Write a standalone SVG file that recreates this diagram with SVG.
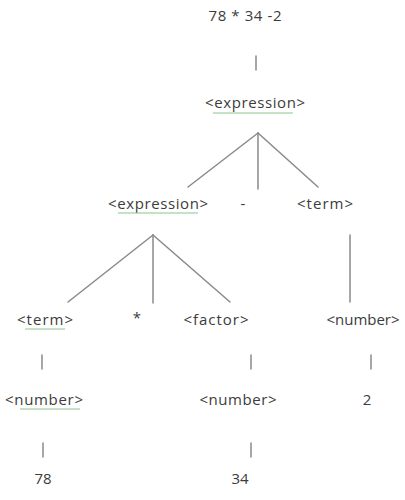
<svg xmlns="http://www.w3.org/2000/svg" width="405" height="500" viewBox="0 0 405 500">
<style>
.t{font-family:"Open Sans","Liberation Sans",sans-serif;font-size:15px;fill:#3c3c3c;text-anchor:middle}
.e{stroke:#8a8a8a;stroke-width:1.5;fill:none;stroke-linecap:round}
.u{stroke:#8fc48f;stroke-width:1.2;fill:none}
</style>
<rect width="405" height="500" fill="#ffffff"/>
<g id="connectors">
<line class="e" x1="256" y1="56" x2="256" y2="70"/>
<line class="e" x1="258" y1="133" x2="188" y2="187"/>
<line class="e" x1="258" y1="133" x2="258" y2="189"/>
<line class="e" x1="258" y1="133" x2="318" y2="187"/>
<line class="e" x1="153" y1="235" x2="68" y2="302"/>
<line class="e" x1="153" y1="235" x2="153" y2="303"/>
<line class="e" x1="153" y1="235" x2="230" y2="302"/>
<line class="e" x1="350" y1="235" x2="350" y2="302"/>
<line class="e" x1="42" y1="355" x2="42" y2="369"/>
<line class="e" x1="251" y1="355" x2="251" y2="369"/>
<line class="e" x1="371" y1="355" x2="371" y2="369"/>
<line class="e" x1="43" y1="443" x2="43" y2="457"/>
<line class="e" x1="251" y1="443" x2="251" y2="457"/>
</g>
<g id="root"><text class="t" x="245" y="21" textLength="73">78 * 34 -2</text></g>
<g id="expr1"><text class="t" x="255" y="108" textLength="100">&lt;expression&gt;</text><line class="u" x1="213" y1="113" x2="293" y2="113"/></g>
<g id="expr2"><text class="t" x="158" y="209" textLength="100">&lt;expression&gt;</text><line class="u" x1="118" y1="213" x2="198" y2="213"/></g>
<g id="minus"><text class="t" x="243" y="209">-</text></g>
<g id="term1"><text class="t" x="325" y="209" textLength="56">&lt;term&gt;</text></g>
<g id="term2"><text class="t" x="45" y="325" textLength="56">&lt;term&gt;</text><line class="u" x1="25" y1="329" x2="65" y2="329"/></g>
<g id="times"><text class="t" x="137" y="323">*</text></g>
<g id="factor"><text class="t" x="216" y="325" textLength="65">&lt;factor&gt;</text></g>
<g id="number1"><text class="t" x="363" y="325" textLength="73">&lt;number&gt;</text></g>
<g id="number2"><text class="t" x="44" y="405" textLength="78">&lt;number&gt;</text><line class="u" x1="20" y1="409" x2="80" y2="409"/></g>
<g id="number3"><text class="t" x="238" y="405" textLength="77">&lt;number&gt;</text></g>
<g id="two"><text class="t" x="367" y="405">2</text></g>
<g id="n78"><text class="t" x="43" y="484">78</text></g>
<g id="n34"><text class="t" x="240" y="484">34</text></g>
</svg>
